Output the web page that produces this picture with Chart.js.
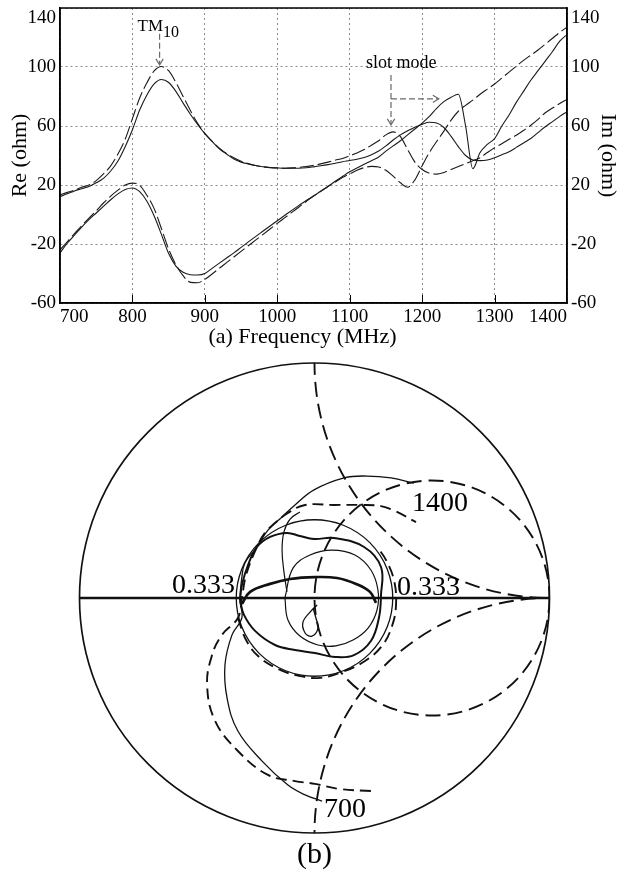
<!DOCTYPE html>
<html>
<head>
<meta charset="utf-8">
<title>Input impedance and Smith chart</title>
<script src="https://cdn.jsdelivr.net/npm/chart.js@4.4.1/dist/chart.umd.min.js"></script>
<style>
  body { margin: 0; background: #fff; }
  canvas { display: block; }
</style>
</head>
<body>
<canvas id="impChart" width="628" height="352"></canvas>
<canvas id="smithChart" width="628" height="527"></canvas>
<script>
// ==========================
// DATA - (a) impedance vs frequency
// ==========================
const freqMHz = [
  700, 710, 720, 730, 740, 750, 760, 770, 780, 790,
  800, 810, 820, 830, 840, 850, 860, 870, 880, 890,
  900, 910, 920, 930, 940, 950, 960, 970, 980, 990,
  1000, 1010, 1020, 1030, 1040, 1050, 1060, 1070, 1080, 1090,
  1100, 1110, 1120, 1130, 1140, 1150, 1160, 1170, 1180, 1190,
  1200, 1210, 1220, 1230, 1240, 1250, 1260, 1270, 1280, 1290,
  1300, 1310, 1320, 1330, 1340, 1350, 1360, 1370, 1380, 1390,
  1400
]

// real part, dashed curve (slot mode near 1160 MHz)
const reMeasured = [
  13.3, 15, 16.5, 18.5, 20, 23, 27.5, 33, 41, 51,
  65, 79, 89.3, 97.3, 100.3, 97.5, 89.6, 80, 70.5, 61.8,
  55, 49.5, 45, 41.3, 38.5, 36.1, 34.5, 33.2, 32.4, 31.8,
  31.5, 31.4, 31.6, 32, 32.5, 33.3, 34.3, 35.5, 36.8, 38,
  39.8, 41.7, 44, 47, 50, 54, 56, 52.8, 44, 35.5,
  30.5, 28, 27.4, 28.5, 30.5, 32.5, 34.5, 36.5, 38.5, 42,
  45.3, 48, 51, 53.7, 57, 60.5, 64.5, 69, 72.2, 75.2,
  78
]

// real part, solid curve (slot mode shifted up)
const reSimulated = [
  12.2, 14, 16, 17.5, 19, 21.5, 24.5, 29.5, 36.3, 46,
  57.5, 70.8, 81, 88.5, 91.5, 89.5, 83.5, 75.5, 68, 61,
  54.8, 49.5, 44.5, 41, 37.6, 35.5, 34.2, 33.2, 32.4, 31.9,
  31.6, 31.4, 31.4, 31.4, 31.7, 32.3, 33, 33.8, 34.8, 35.8,
  36.6, 37.5, 38.7, 40.5, 43, 46.5, 50.5, 54, 56.8, 59.2,
  61.2, 62.5, 62, 59, 53, 46, 40, 37, 36.5, 37,
  38.5, 40.5, 42.5, 45.5, 48.5, 51.5, 55.5, 59.5, 63, 66.5,
  69.6
]

// imaginary part, dashed curve
const imMeasured = [
  -24, -18.5, -13, -7.5, -2.5, 2.5, 7.8, 12.5, 16.5, 20,
  21.3, 19.8, 13, 4, -9.5, -23.5, -34, -41.5, -46, -46.3,
  -44, -40.3, -36.5, -32.6, -28.8, -25, -21.2, -17.4, -13.6, -9.8,
  -6, -2.3, 1.4, 5.1, 8.8, 12.5, 15.8, 19, 22, 25,
  27.5, 30, 31.8, 32.6, 32.2, 30, 26, 21.5, 18.5, 23.5,
  33, 42, 49.5, 56.5, 64, 70, 74, 77.5, 81.5, 85,
  88.5, 92.5, 96.5, 100.5, 104.5, 108, 111.5, 115.5, 119.5, 123.5,
  127
]

// imaginary part, solid curve
const imSimulated = [
  -26, -19.5, -14, -8.5, -3.5, 1, 5.5, 10, 14, 17,
  18, 15.5, 9, -1, -13.5, -26.5, -35, -39.2, -40.8, -41,
  -40, -36.5, -33, -29.5, -26, -22.3, -18.6, -15, -11.4, -7.8,
  -4.2, -0.7, 2.8, 6.2, 9.5, 12.5, 15.8, 19, 22.5, 25.8,
  29, 31.5, 34, 36.5, 39, 43, 46.5, 50, 54, 58,
  62, 66.5, 72, 76.5, 79.5, 81.5, 60, 31, 42, 47.5,
  51.5, 60, 67.5, 76, 83.5, 91, 97.5, 104, 110.5, 117.5,
  122
]

const ohmTicks = [-60, -20, 20, 60, 100, 140]
const innerTickFreqs = [800, 900, 1000, 1100, 1200, 1300]

// notes (frequency / ohm positions)
const tmNote = { freq: 807, value: 124.6 }
const tmArrow = { freq: 837.5, from: 122.5, to: 101.5 }
const slotNote = { freq: 1171, value: 99.6 }
const slotArrowDown = { freq: 1157, from: 94.6, to: 60.8 }
const slotArrowRight = { value: 78.4, from: 1157, to: 1223 }

// ==========================
// DATA - (b) Smith chart (reflection coefficient, re / im)
// ==========================
const simTrace = [
  [0.032, -0.864], [-0.040, -0.838], [-0.113, -0.796], [-0.223, -0.694], [-0.326, -0.566],
  [-0.372, -0.426], [-0.381, -0.285], [-0.351, -0.157], [-0.309, -0.085], [-0.317, -0.009],
  [-0.309, 0.089], [-0.296, 0.149], [-0.245, 0.217], [-0.198, 0.289], [-0.138, 0.345],
  [-0.083, 0.396], [-0.002, 0.460], [0.126, 0.511], [0.223, 0.519], [0.326, 0.511], [0.423, 0.489]
]
const measTrace = [
  [0.240, -0.821], [0.109, -0.813], [0.002, -0.791], [-0.083, -0.779], [-0.198, -0.753],
  [-0.326, -0.651], [-0.423, -0.523], [-0.457, -0.370], [-0.436, -0.243], [-0.394, -0.157],
  [-0.326, -0.085], [-0.309, 0.000], [-0.291, 0.098], [-0.245, 0.217], [-0.211, 0.277],
  [-0.168, 0.319], [-0.113, 0.362], [-0.040, 0.396], [0.083, 0.396], [0.194, 0.396],
  [0.283, 0.391], [0.343, 0.370], [0.432, 0.323]
]
const slotLoop = [
  [-0.317, -0.009], [-0.300, -0.072], [-0.253, -0.140], [-0.168, -0.200], [-0.083, -0.221],
  [0.002, -0.234], [0.087, -0.251], [0.168, -0.243], [0.240, -0.183], [0.274, -0.085],
  [0.283, 0.013], [0.283, 0.132], [0.211, 0.217], [0.083, 0.255], [-0.002, 0.251],
  [-0.062, 0.264], [-0.117, 0.277], [-0.189, 0.260], [-0.245, 0.217], [-0.283, 0.140],
  [-0.309, 0.055], [-0.317, -0.009]
]
const tmLoop = [
  [-0.309, -0.026], [-0.274, 0.026], [-0.189, 0.060], [-0.104, 0.081], [0.002, 0.089],
  [0.096, 0.085], [0.177, 0.060], [0.236, 0.026], [0.262, -0.021]
]
const innerLoop = [
  [-0.126, 0.000], [-0.113, -0.094], [-0.062, -0.162], [0.015, -0.200], [0.091, -0.204],
  [0.164, -0.179], [0.228, -0.128], [0.266, -0.051], [0.270, 0.034], [0.240, 0.119],
  [0.172, 0.183], [0.074, 0.204], [-0.019, 0.183], [-0.091, 0.128], [-0.126, 0.000]
]
const smallLoop = [
  [0.011, -0.030], [-0.019, -0.060], [-0.049, -0.102], [-0.040, -0.149], [-0.011, -0.162],
  [0.015, -0.128], [0.006, -0.085], [-0.006, -0.043]
]
const measLoop = [
  [-0.326, -0.085], [-0.291, -0.179], [-0.240, -0.247], [-0.155, -0.302], [-0.062, -0.332],
  [0.023, -0.340], [0.117, -0.315], [0.215, -0.268], [0.287, -0.204], [0.330, -0.119],
  [0.347, -0.026], [0.338, 0.077], [0.304, 0.162], [0.270, 0.213]
]
const leftArc = [
  [-0.062, 0.366], [-0.104, 0.336], [-0.130, 0.281], [-0.138, 0.204], [-0.130, 0.111], [-0.117, 0.026]
]

const vswrRadius = 0.333
const gridResistance = [1]
const gridReactance = [1, -1]
const smithLabels = [
  { text: "0.333", x: -0.338, y: 0.051, align: "right" },
  { text: "0.333", x: 0.351, y: 0.043, align: "left" },
  { text: "1400", x: 0.534, y: 0.400, align: "center" },
  { text: "700", x: 0.130, y: -0.902, align: "center" }
]

// ==========================
// (a) IMPEDANCE CHART
// ==========================
const SERIF = "'Liberation Serif', 'Times New Roman', serif"
Chart.defaults.font.family = SERIF
Chart.defaults.color = "#000"

const toXY = (vals) => vals.map((v, i) => ({ x: freqMHz[i], y: v }))

function drawArrow(ctx, x1, y1, x2, y2) {
  ctx.save()
  ctx.strokeStyle = "#6a6a6a"
  ctx.lineWidth = 1.2
  ctx.setLineDash([6, 3])
  ctx.beginPath()
  ctx.moveTo(x1, y1)
  ctx.lineTo(x2, y2)
  ctx.stroke()
  ctx.setLineDash([])
  const ang = Math.atan2(y2 - y1, x2 - x1)
  const h = 7
  ctx.beginPath()
  ctx.moveTo(x2 - h * Math.cos(ang - 0.55), y2 - h * Math.sin(ang - 0.55))
  ctx.lineTo(x2, y2)
  ctx.lineTo(x2 - h * Math.cos(ang + 0.55), y2 - h * Math.sin(ang + 0.55))
  ctx.stroke()
  ctx.restore()
}

const frameAndNotes = {
  id: "frameAndNotes",
  afterDraw(chart) {
    const { ctx, chartArea: a, scales: { x, y } } = chart
    ctx.save()
    // short inner ticks on the bottom axis
    ctx.strokeStyle = "#000"
    ctx.lineWidth = 1
    innerTickFreqs.forEach((f) => {
      const px = Math.round(x.getPixelForValue(f)) + 0.5
      ctx.beginPath()
      ctx.moveTo(px, a.bottom)
      ctx.lineTo(px, a.bottom - 8)
      ctx.stroke()
    })
    // frame
    ctx.lineWidth = 1.5
    ctx.strokeRect(a.left, a.top, a.right - a.left, a.bottom - a.top)

    // ohm tick labels on both sides (top one kept inside like the original)
    ctx.fillStyle = "#000"
    ctx.font = "19px " + SERIF
    ctx.textBaseline = "middle"
    ohmTicks.forEach((v) => {
      const py = y.getPixelForValue(v) + (v === 140 ? 10 : 0)
      ctx.textAlign = "right"
      ctx.fillText(String(v), a.left - 4, py)
      ctx.textAlign = "left"
      ctx.fillText(String(v), a.right + 4, py)
    })

    // TM10 note
    ctx.textBaseline = "alphabetic"
    ctx.textAlign = "left"
    ctx.font = "17px " + SERIF
    const tx = x.getPixelForValue(tmNote.freq)
    const ty = y.getPixelForValue(tmNote.value)
    ctx.fillText("TM", tx, ty)
    const tw = ctx.measureText("TM").width
    ctx.font = "16px " + SERIF
    ctx.fillText("10", tx + tw, ty + 6)
    drawArrow(ctx, x.getPixelForValue(tmArrow.freq), y.getPixelForValue(tmArrow.from),
      x.getPixelForValue(tmArrow.freq), y.getPixelForValue(tmArrow.to))

    // slot mode note
    ctx.font = "18px " + SERIF
    ctx.textAlign = "center"
    ctx.fillText("slot mode", x.getPixelForValue(slotNote.freq), y.getPixelForValue(slotNote.value))
    drawArrow(ctx, x.getPixelForValue(slotArrowDown.freq), y.getPixelForValue(slotArrowDown.from),
      x.getPixelForValue(slotArrowDown.freq), y.getPixelForValue(slotArrowDown.to))
    drawArrow(ctx, x.getPixelForValue(slotArrowRight.from), y.getPixelForValue(slotArrowRight.value),
      x.getPixelForValue(slotArrowRight.to), y.getPixelForValue(slotArrowRight.value))
    ctx.restore()
  }
}

const lineStyle = {
  borderColor: "#1a1a1a",
  borderWidth: 1.1,
  pointRadius: 0,
  fill: false,
  cubicInterpolationMode: "monotone"
}

const tickFont = { size: 19, family: SERIF }
const titleFont = { size: 22, family: SERIF }

const impChart = new Chart(document.getElementById("impChart"), {
  type: "line",
  data: {
    datasets: [
      { ...lineStyle, label: "Re dashed", data: toXY(reMeasured), borderDash: [14, 4], yAxisID: "y" },
      { ...lineStyle, label: "Re solid", data: toXY(reSimulated), yAxisID: "y" },
      { ...lineStyle, label: "Im dashed", data: toXY(imMeasured), borderDash: [14, 4], yAxisID: "y2" },
      { ...lineStyle, label: "Im solid", data: toXY(imSimulated), yAxisID: "y2" }
    ]
  },
  options: {
    responsive: false,
    animation: false,
    devicePixelRatio: 1,
    layout: { padding: { top: 8, left: 0, right: 0, bottom: 0 } },
    plugins: { legend: { display: false }, tooltip: { enabled: false } },
    scales: {
      x: {
        type: "linear",
        min: 700,
        max: 1400,
        ticks: {
          stepSize: 100, font: tickFont, align: "inner", maxRotation: 0, padding: 3,
          callback: (v) => String(v)
        },
        grid: { color: "#8a8a8a", lineWidth: 1, drawTicks: false },
        border: { display: true, color: "#000", width: 1.5, dash: [2, 3] },
        // trailing no-break spaces nudge the centred title a little left, as in the original
        title: {
          display: true, text: "(a) Frequency (MHz)\u00a0\u00a0\u00a0\u00a0", font: titleFont,
          padding: { top: 0, bottom: 2 }
        },
        afterFit: (s) => { s.height = 49 }
      },
      y: {
        position: "left",
        min: -60,
        max: 140,
        afterBuildTicks: (s) => { s.ticks = ohmTicks.map((v) => ({ value: v })) },
        ticks: { display: false },
        grid: { color: "#8a8a8a", lineWidth: 1, drawTicks: false },
        border: { display: true, color: "#000", width: 1.5, dash: [2, 3] },
        title: { display: true, text: "Re (ohm)", font: titleFont, padding: 7 },
        afterFit: (s) => { s.width = 60 }
      },
      y2: {
        position: "right",
        min: -60,
        max: 140,
        afterBuildTicks: (s) => { s.ticks = ohmTicks.map((v) => ({ value: v })) },
        ticks: { display: false },
        grid: { drawOnChartArea: false, drawTicks: false },
        border: { display: true, color: "#000", width: 1.5 },
        title: { display: true, text: "Im (ohm)", font: titleFont, padding: 7 },
        afterFit: (s) => { s.width = 61 }
      }
    }
  },
  plugins: [frameAndNotes]
})

// ==========================
// (b) SMITH CHART
// ==========================
const toPts = (arr) => arr.map((p) => ({ x: p[0], y: p[1] }))

const smithGrid = {
  id: "smithGrid",
  beforeDatasetsDraw(chart) {
    const { ctx, scales: { x, y } } = chart
    const cx = x.getPixelForValue(0)
    const cy = y.getPixelForValue(0)
    const R = x.getPixelForValue(1) - cx
    ctx.save()
    ctx.strokeStyle = "#111"
    // outer circle
    ctx.lineWidth = 1.7
    ctx.beginPath()
    ctx.arc(cx, cy, R, 0, 2 * Math.PI)
    ctx.stroke()
    // real axis
    ctx.lineWidth = 2.4
    ctx.beginPath()
    ctx.moveTo(x.getPixelForValue(-1), cy)
    ctx.lineTo(x.getPixelForValue(1), cy)
    ctx.stroke()
    // |gamma| = 0.333 circle
    ctx.lineWidth = 1.3
    ctx.beginPath()
    ctx.arc(cx, cy, R * vswrRadius, 0, 2 * Math.PI)
    ctx.stroke()
    // dashed resistance / reactance circles, kept inside the unit circle
    ctx.beginPath()
    ctx.arc(cx, cy, R, 0, 2 * Math.PI)
    ctx.clip()
    ctx.setLineDash([15, 7])
    ctx.lineWidth = 1.9
    gridResistance.forEach((r) => {
      ctx.beginPath()
      ctx.arc(cx + R * r / (1 + r), cy, R / (1 + r), 0, 2 * Math.PI)
      ctx.stroke()
    })
    gridReactance.forEach((xv) => {
      ctx.beginPath()
      ctx.arc(cx + R, cy - R / xv, R / Math.abs(xv), 0, 2 * Math.PI)
      ctx.stroke()
    })
    ctx.restore()
  },
  afterDraw(chart) {
    const { ctx, scales: { x, y } } = chart
    ctx.save()
    ctx.fillStyle = "#000"
    ctx.font = "28px " + SERIF
    ctx.textBaseline = "middle"
    smithLabels.forEach((l) => {
      ctx.textAlign = l.align
      ctx.fillText(l.text, x.getPixelForValue(l.x), y.getPixelForValue(l.y))
    })
    ctx.font = "30px " + SERIF
    ctx.textAlign = "center"
    ctx.fillText("(b)", x.getPixelForValue(0), y.getPixelForValue(-1) + 22)
    ctx.restore()
  }
}

const trace = (data, width, dash) => ({
  data: toPts(data),
  showLine: true,
  borderColor: "#111",
  borderWidth: width,
  borderDash: dash || [],
  pointRadius: 0,
  tension: 0.4,
  fill: false
})

const smithChart = new Chart(document.getElementById("smithChart"), {
  type: "scatter",
  data: {
    datasets: [
      trace(simTrace, 1.3),
      trace(measTrace, 1.9, [11, 6]),
      trace(slotLoop, 2),
      trace(tmLoop, 2.7),
      trace(innerLoop, 1.2),
      trace(smallLoop, 1.3),
      trace(measLoop, 1.9, [11, 6]),
      trace(leftArc, 1.2)
    ]
  },
  options: {
    responsive: false,
    animation: false,
    devicePixelRatio: 1,
    layout: { padding: { left: 79.5, right: 78.5, top: 11, bottom: 46 } },
    plugins: { legend: { display: false }, tooltip: { enabled: false } },
    scales: {
      x: { display: false, min: -1, max: 1 },
      y: { display: false, min: -1, max: 1 }
    }
  },
  plugins: [smithGrid]
})
</script>
</body>
</html>
